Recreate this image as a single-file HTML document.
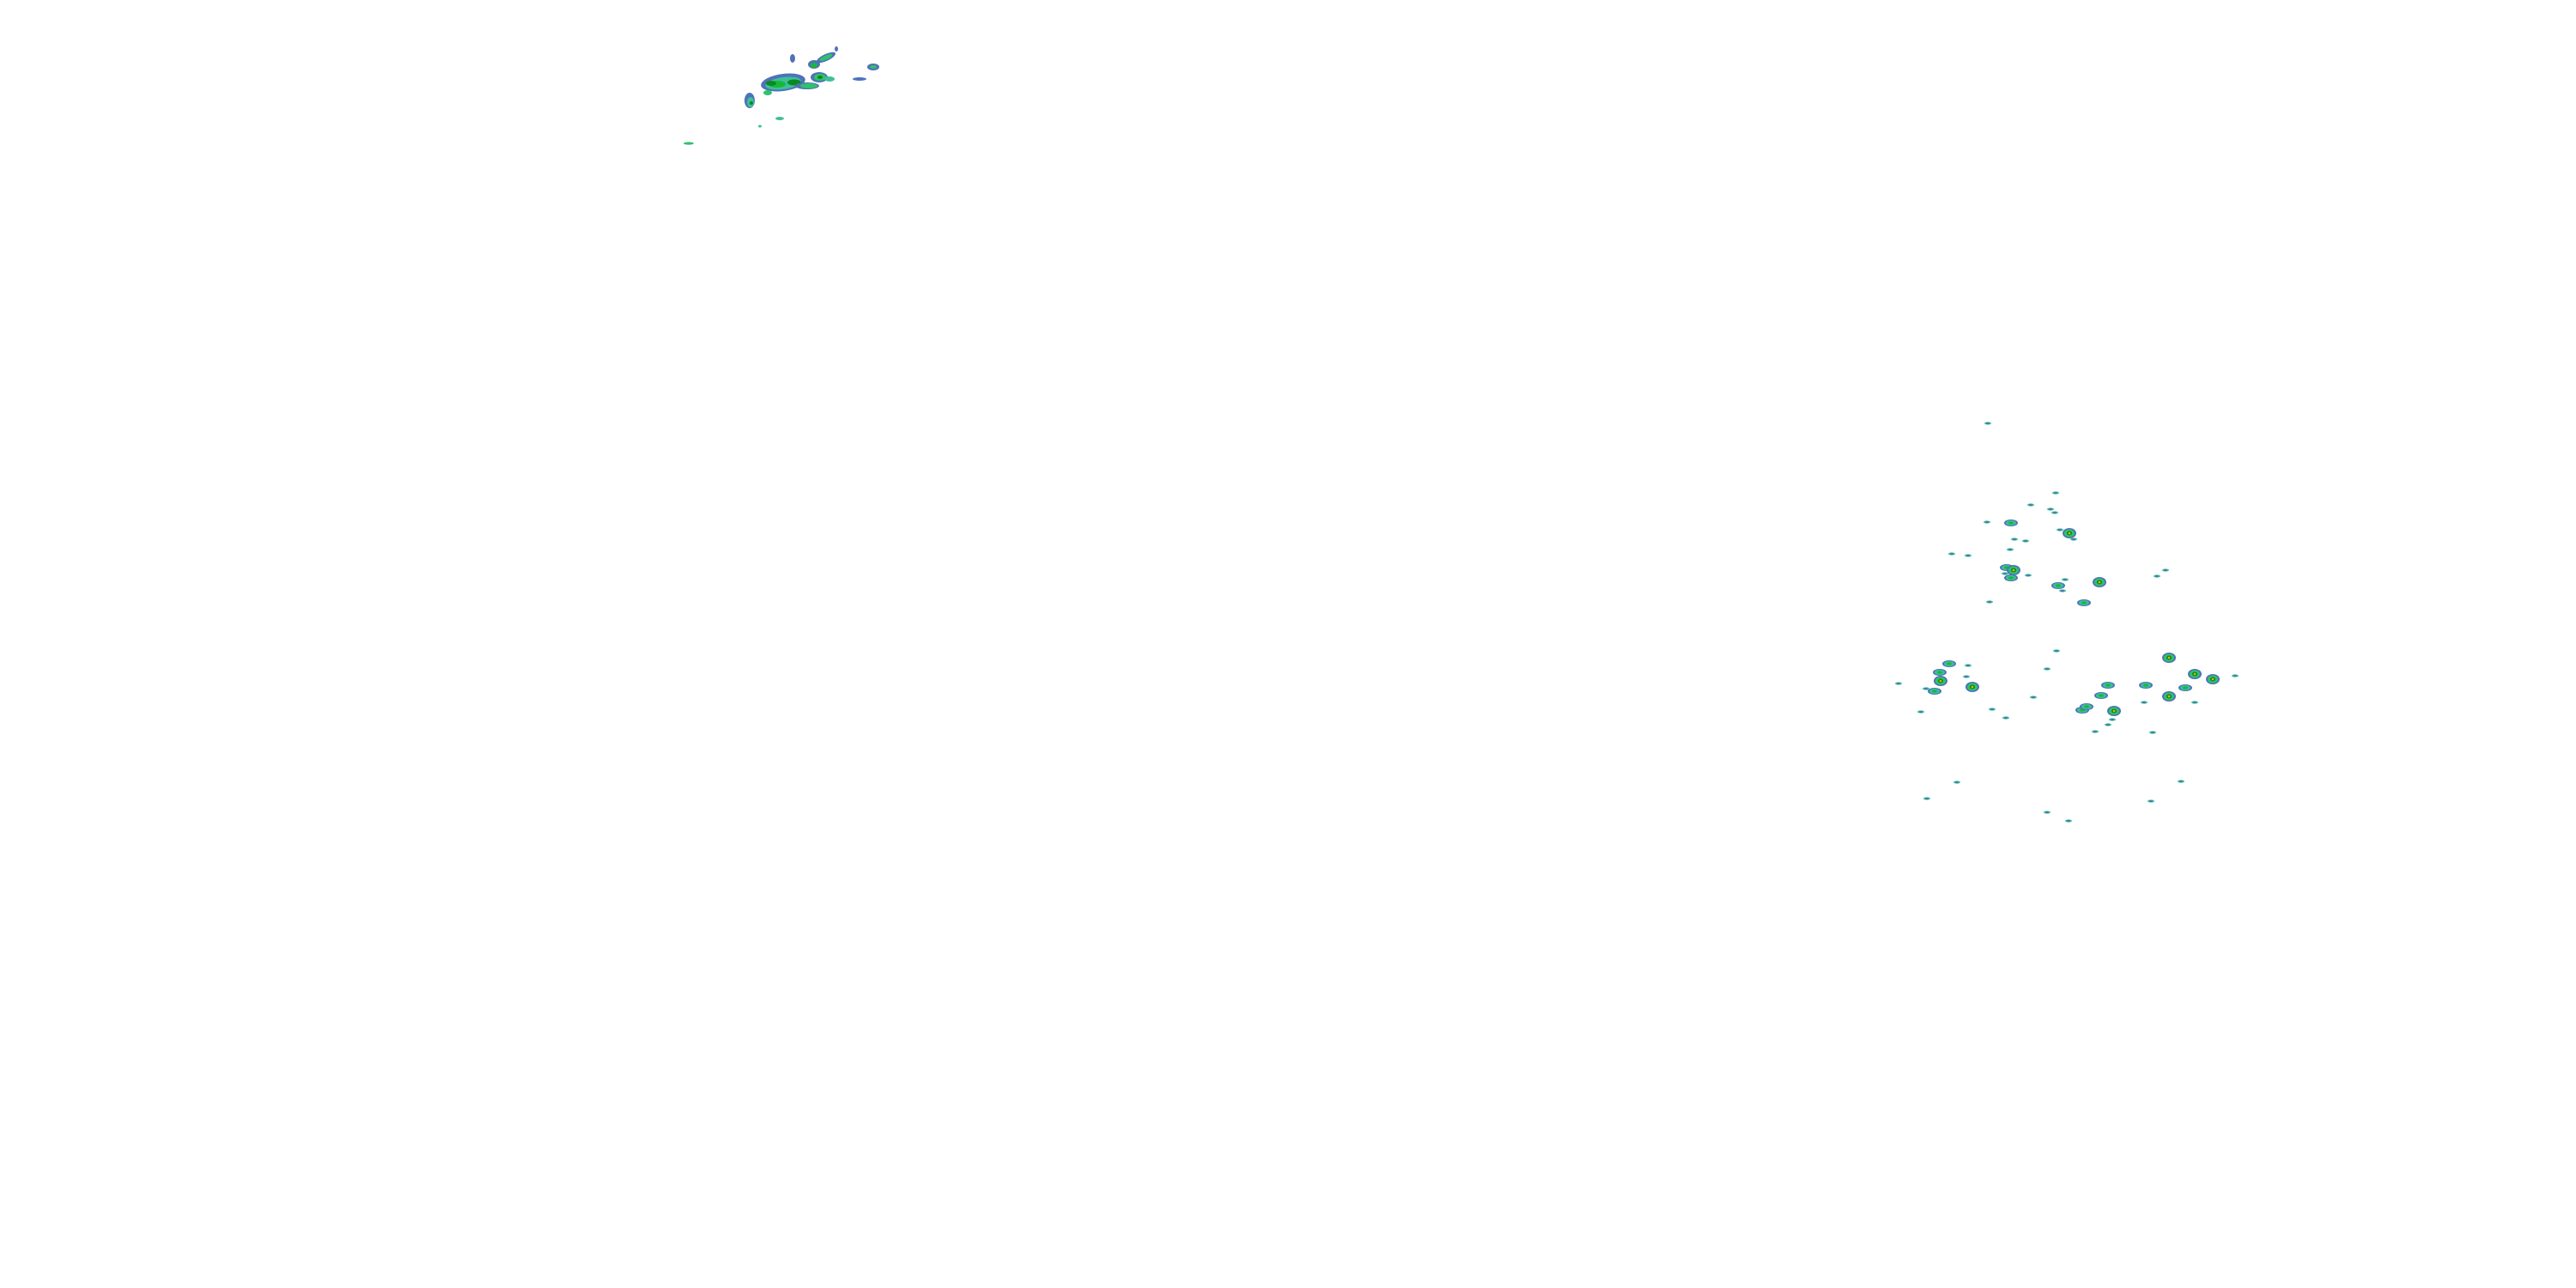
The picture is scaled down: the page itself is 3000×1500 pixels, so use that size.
<!DOCTYPE html>
<html><head><meta charset="utf-8"><style>
html,body{margin:0;padding:0;background:#fff;}
svg{display:block}
</style></head><body>
<svg width="3000" height="1500" xmlns="http://www.w3.org/2000/svg">
<defs>
<g id="b">
<ellipse rx="8" ry="4" fill="#4f72b8"/>
<ellipse rx="6" ry="3" fill="#3dbf9a"/>
<ellipse rx="3" ry="1.6" fill="#16b83a"/>
</g>
<g id="s">
<ellipse rx="4" ry="1.6" fill="#3dbf9a"/>
<ellipse rx="2" ry="1" fill="#4f72b8"/>
</g>
<g id="c">
<ellipse rx="8" ry="6" fill="#4f72b8"/>
<ellipse rx="6" ry="4.5" fill="#2fc26a"/>
<ellipse rx="3" ry="2.5" fill="#0a8a1e"/>
<ellipse rx="1.3" ry="1.3" fill="#f0b000"/>
</g>
</defs>
<!-- top-left cluster -->
<g>
<ellipse cx="912" cy="96" rx="26" ry="10" fill="#4f72b8" transform="rotate(-8 912 96)"/>
<ellipse cx="912" cy="97" rx="21" ry="7" fill="#3dbf9a" transform="rotate(-8 912 96)"/>
<ellipse cx="905" cy="98" rx="10" ry="4" fill="#16b83a"/>
<ellipse cx="925" cy="96" rx="8" ry="3.5" fill="#0a8a1e"/>
<ellipse cx="898" cy="97" rx="6" ry="3" fill="#0a8a1e"/>
<ellipse cx="940" cy="100" rx="14" ry="4" fill="#4f72b8"/>
<ellipse cx="942" cy="100" rx="10" ry="3" fill="#2fc26a"/>
<ellipse cx="954" cy="90" rx="10" ry="6" fill="#4f72b8"/>
<ellipse cx="955" cy="90" rx="7" ry="4" fill="#2fc26a"/>
<ellipse cx="955" cy="90" rx="3" ry="2" fill="#0a8a1e"/>
<ellipse cx="966" cy="92" rx="6" ry="3" fill="#3dbf9a"/>
<ellipse cx="948" cy="75" rx="7" ry="5" fill="#4f72b8"/>
<ellipse cx="948" cy="76" rx="4" ry="3" fill="#16b83a"/>
<ellipse cx="962" cy="67" rx="12" ry="4" fill="#4f72b8" transform="rotate(-25 962 67)"/>
<ellipse cx="962" cy="67" rx="8" ry="2.5" fill="#2fc26a" transform="rotate(-25 962 67)"/>
<ellipse cx="873" cy="117" rx="6" ry="9" fill="#4f72b8"/>
<ellipse cx="874" cy="119" rx="4" ry="6" fill="#3dbf9a"/>
<ellipse cx="875" cy="120" rx="2" ry="2" fill="#0a8a1e"/>
<ellipse cx="894" cy="108" rx="5" ry="3" fill="#2fc26a"/>
<ellipse cx="1017" cy="78" rx="7" ry="4" fill="#4f72b8"/>
<ellipse cx="1017" cy="78" rx="4" ry="2" fill="#2fc26a"/>
<ellipse cx="1001" cy="92" rx="8" ry="2" fill="#4f72b8"/>
<ellipse cx="923" cy="68" rx="3" ry="5" fill="#4f72b8"/>
<ellipse cx="974" cy="57" rx="2" ry="3" fill="#4f72b8"/>
<ellipse cx="908" cy="138" rx="5" ry="2" fill="#3dbf9a"/>
<ellipse cx="885" cy="147" rx="2" ry="1.5" fill="#3dbf9a"/>
<ellipse cx="802" cy="167" rx="6" ry="1.6" fill="#2fc26a"/>
</g>
<!-- right field lower -->
<use href="#b" x="2270" y="773"/>
<use href="#b" x="2259" y="783"/>
<use href="#c" x="2260" y="793"/>
<use href="#b" x="2253" y="805"/>
<use href="#c" x="2297" y="800"/>
<use href="#s" x="2292" y="775"/>
<use href="#b" x="2455" y="798"/>
<use href="#b" x="2447" y="810"/>
<use href="#b" x="2425" y="827"/>
<use href="#b" x="2430" y="823"/>
<use href="#c" x="2462" y="828"/>
<use href="#c" x="2526" y="766"/>
<use href="#c" x="2556" y="785"/>
<use href="#c" x="2577" y="791"/>
<use href="#b" x="2545" y="801"/>
<use href="#c" x="2526" y="811"/>
<use href="#b" x="2499" y="798"/>
<use href="#s" x="2556" y="818"/>
<use href="#s" x="2497" y="818"/>
<use href="#s" x="2460" y="838"/>
<use href="#s" x="2455" y="844"/>
<use href="#s" x="2440" y="852"/>
<use href="#s" x="2507" y="853"/>
<use href="#s" x="2384" y="779"/>
<use href="#s" x="2368" y="812"/>
<use href="#s" x="2336" y="836"/>
<use href="#s" x="2320" y="826"/>
<use href="#s" x="2290" y="788"/>
<use href="#s" x="2243" y="802"/>
<use href="#s" x="2237" y="829"/>
<use href="#s" x="2211" y="796"/>
<use href="#s" x="2603" y="787"/>
<use href="#s" x="2395" y="758"/>
<use href="#s" x="2244" y="930"/>
<use href="#s" x="2384" y="946"/>
<use href="#s" x="2409" y="956"/>
<use href="#s" x="2505" y="933"/>
<use href="#s" x="2540" y="910"/>
<use href="#s" x="2279" y="911"/>
<!-- right field upper -->
<use href="#s" x="2315" y="493"/>
<use href="#s" x="2394" y="574"/>
<use href="#s" x="2365" y="588"/>
<use href="#s" x="2388" y="593"/>
<use href="#s" x="2393" y="597"/>
<use href="#b" x="2342" y="609"/>
<use href="#s" x="2314" y="608"/>
<use href="#s" x="2399" y="617"/>
<use href="#c" x="2410" y="621"/>
<use href="#s" x="2415" y="628"/>
<use href="#s" x="2346" y="628"/>
<use href="#s" x="2359" y="630"/>
<use href="#s" x="2341" y="640"/>
<use href="#s" x="2273" y="645"/>
<use href="#s" x="2292" y="647"/>
<use href="#b" x="2337" y="661"/>
<use href="#c" x="2345" y="664"/>
<use href="#b" x="2342" y="673"/>
<use href="#s" x="2335" y="668"/>
<use href="#s" x="2362" y="670"/>
<use href="#b" x="2397" y="682"/>
<use href="#s" x="2405" y="675"/>
<use href="#c" x="2445" y="678"/>
<use href="#b" x="2427" y="702"/>
<use href="#s" x="2317" y="701"/>
<use href="#s" x="2402" y="688"/>
<use href="#s" x="2522" y="664"/>
<use href="#s" x="2512" y="671"/>
</svg>
</body></html>
